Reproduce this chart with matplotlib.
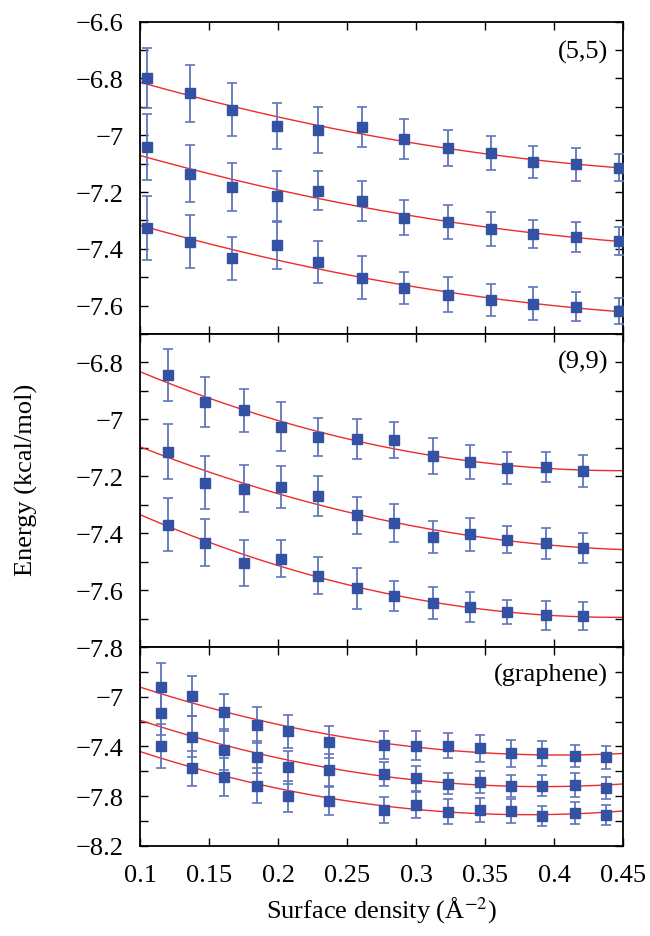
import matplotlib
matplotlib.use('Agg')
import matplotlib.pyplot as plt
from matplotlib.ticker import MultipleLocator, FixedLocator, FuncFormatter
import numpy as np

plt.rcParams['font.family'] = ['Liberation Serif', 'DejaVu Serif']
plt.rcParams['mathtext.fontset'] = 'stix'

# ---- data ----
# (5,5) tube
x55 = [0.105, 0.136, 0.167, 0.199, 0.229, 0.261, 0.291, 0.323, 0.354, 0.385, 0.416, 0.447]
e55_a = [-6.799, -6.852, -6.910, -6.969, -6.981, -6.971, -7.012, -7.045, -7.063, -7.094, -7.103, -7.114]
err55_a = [0.105, 0.100, 0.094, 0.081, 0.082, 0.070, 0.070, 0.064, 0.061, 0.057, 0.057, 0.048]
e55_b = [-7.042, -7.135, -7.182, -7.214, -7.196, -7.231, -7.290, -7.305, -7.329, -7.347, -7.358, -7.373]
err55_b = [0.116, 0.099, 0.084, 0.087, 0.069, 0.071, 0.063, 0.060, 0.060, 0.049, 0.054, 0.049]
e55_c = [-7.326, -7.375, -7.434, -7.387, -7.446, -7.502, -7.537, -7.561, -7.581, -7.593, -7.604, -7.619]
err55_c = [0.112, 0.093, 0.077, 0.083, 0.074, 0.075, 0.057, 0.060, 0.057, 0.057, 0.052, 0.047]

# (9,9) tube
x99 = [0.120, 0.147, 0.175, 0.202, 0.229, 0.257, 0.284, 0.312, 0.339, 0.366, 0.394, 0.421]
e99_a = [-6.844, -6.938, -6.968, -7.026, -7.061, -7.070, -7.073, -7.130, -7.149, -7.170, -7.167, -7.181]
err99_a = [0.091, 0.088, 0.075, 0.086, 0.067, 0.070, 0.063, 0.063, 0.060, 0.057, 0.052, 0.055]
e99_b = [-7.114, -7.223, -7.243, -7.237, -7.269, -7.337, -7.364, -7.413, -7.404, -7.423, -7.435, -7.452]
err99_b = [0.096, 0.093, 0.081, 0.074, 0.070, 0.065, 0.066, 0.057, 0.059, 0.048, 0.055, 0.051]
e99_c = [-7.370, -7.433, -7.505, -7.490, -7.549, -7.593, -7.621, -7.646, -7.660, -7.677, -7.689, -7.692]
err99_c = [0.094, 0.082, 0.082, 0.065, 0.064, 0.072, 0.053, 0.056, 0.052, 0.043, 0.051, 0.049]

# graphene
xg = [0.115, 0.138, 0.161, 0.185, 0.207, 0.237, 0.277, 0.300, 0.323, 0.346, 0.369, 0.391, 0.415, 0.438]
eg_a = [-6.919, -6.996, -7.125, -7.227, -7.278, -7.366, -7.388, -7.393, -7.393, -7.414, -7.455, -7.455, -7.474, -7.487]
errg_a = [0.188, 0.160, 0.147, 0.142, 0.134, 0.128, 0.110, 0.115, 0.100, 0.107, 0.107, 0.100, 0.088, 0.094]
eg_b = [-7.131, -7.321, -7.428, -7.487, -7.567, -7.589, -7.621, -7.656, -7.701, -7.688, -7.720, -7.715, -7.707, -7.736]
errg_b = [0.180, 0.167, 0.165, 0.130, 0.134, 0.130, 0.096, 0.100, 0.085, 0.090, 0.087, 0.085, 0.096, 0.090]
eg_c = [-7.398, -7.575, -7.648, -7.715, -7.800, -7.840, -7.910, -7.870, -7.924, -7.910, -7.921, -7.956, -7.934, -7.950]
errg_c = [0.177, 0.140, 0.153, 0.142, 0.123, 0.115, 0.107, 0.104, 0.100, 0.094, 0.096, 0.080, 0.088, 0.080]

x_ticks = [0.1, 0.15, 0.2, 0.25, 0.3, 0.35, 0.4, 0.45]

MARK = '#3352a3'
EBAR = '#5f75bb'
FIT = '#f02a2a'
FS = 19

fmt = FuncFormatter(lambda v, p: ('%g' % round(v, 2)).replace('-', '\u2212'))


def draw_panel(ax, x, series, errs, ylim, label, label_y):
    xf = np.linspace(0.1, 0.45, 200)
    for y, e in zip(series, errs):
        c = np.polyfit(x, y, 2, w=1.0 / np.asarray(e))
        ax.plot(xf, np.polyval(c, xf), color=FIT, lw=1.0, zorder=2)
        ax.errorbar(x, y, yerr=e, fmt='none', ecolor=EBAR, elinewidth=1.3,
                    capsize=3.6, capthick=1.2, zorder=3)
        ax.plot(x, y, 's', color=MARK, ms=6.5, zorder=4)
    ax.set_xlim(0.1, 0.45)
    ax.set_ylim(*ylim)
    ax.set_xticks(x_ticks)
    ax.tick_params(which='both', direction='in', top=True, right=True,
                   length=6, width=1.0, labelsize=FS)
    ax.tick_params(axis='y', pad=12)
    ax.tick_params(axis='x', pad=13)
    ax.yaxis.set_major_formatter(fmt)
    for s in ax.spines.values():
        s.set_linewidth(1.3)
    ax.text(0.969, label_y, label, transform=ax.transAxes, ha='right',
            va='center', fontsize=FS)


fig = plt.figure(figsize=(6.5, 9.37), dpi=100)
L, W = 0.2154, 0.7431
ax1 = fig.add_axes([L, 0.6425, W, 0.3333])
ax2 = fig.add_axes([L, 0.3084, W, 0.3341])
ax3 = fig.add_axes([L, 0.0961, W, 0.2123])

draw_panel(ax1, x55, [e55_a, e55_b, e55_c], [err55_a, err55_b, err55_c],
           (-7.7, -6.6), '(5,5)', 0.906)
ax1.yaxis.set_major_locator(MultipleLocator(0.2))
ax1.yaxis.set_minor_locator(MultipleLocator(0.1))

draw_panel(ax2, x99, [e99_a, e99_b, e99_c], [err99_a, err99_b, err99_c],
           (-7.8, -6.7), '(9,9)', 0.913)
ax2.yaxis.set_major_locator(MultipleLocator(0.2))
ax2.yaxis.set_minor_locator(MultipleLocator(0.1))

draw_panel(ax3, xg, [eg_a, eg_b, eg_c], [errg_a, errg_b, errg_c],
           (-8.2, -6.6), '(graphene)', 0.864)
ax3.yaxis.set_major_locator(FixedLocator([-7.0, -7.4, -7.8, -8.2]))
ax3.yaxis.set_minor_locator(MultipleLocator(0.2))

ax1.tick_params(labelbottom=False)
ax2.tick_params(labelbottom=False)
ax3.xaxis.set_major_formatter(FuncFormatter(lambda v, p: '%g' % round(v, 2)))
ax3.set_xlabel(r'Surface density (Å$^{-2}$)', fontsize=FS, labelpad=6)

fig.text(0.04, 1 - 480 / 937, 'Energy (kcal/mol)', rotation=90,
         ha='center', va='center', fontsize=FS)

fig.savefig('out.png', dpi=100, facecolor='white')
